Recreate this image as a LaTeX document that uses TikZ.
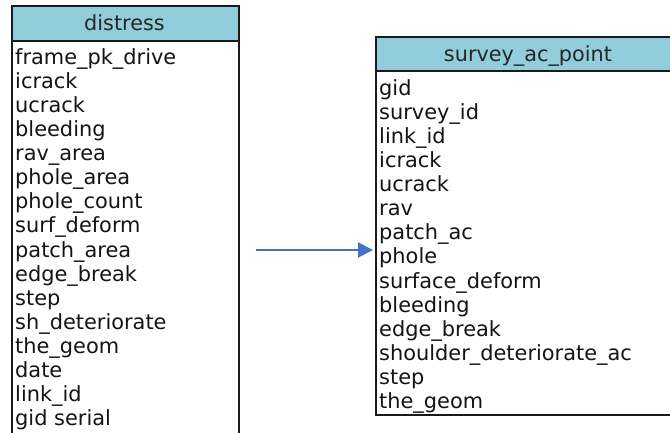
\documentclass[tikz,border=0pt]{standalone}
\usepackage{fontspec}
\setmainfont{DejaVu Sans}
\usetikzlibrary{arrows.meta}
\definecolor{headblue}{HTML}{92CDDC}
\definecolor{linkblue}{HTML}{4472C4}
\definecolor{edge}{HTML}{1A1A1A}
\tikzset{
  tablebox/.style={draw=edge, line width=1.9pt, fill=white, inner sep=0pt, anchor=north west},
  tablehead/.style={draw=edge, line width=1.9pt, fill=headblue, inner sep=0pt, anchor=north west},
  headtext/.style={inner sep=0pt, anchor=base, font=\fontsize{20.8}{24}\selectfont, text=black!85},
  field/.style={inner sep=0pt, anchor=base west, font=\fontsize{20.9}{24}\selectfont, text=black!92},
  link/.style={draw=linkblue, line width=2pt, -{Triangle[length=15pt,width=15pt]}}
}
\begin{document}
\begin{tikzpicture}[x=1pt,y=1pt]
  \useasboundingbox (0,0) rectangle (670,-432);
  \fill[white] (0,0) rectangle (670,-432);
  \clip (0,0) rectangle (670,-432);

  % table: distress
  \node[tablebox, minimum width=227pt, minimum height=450pt] (distress) at (11,-5) {};
  \node[tablehead, minimum width=227pt, minimum height=35pt] (distresshead) at (11,-5) {};
  \node[headtext] (distresstitle) at (124.5,-30.5) {distress};
  \foreach \name [count=\i from 0] in {frame\_pk\_drive,icrack,ucrack,bleeding,rav\_area,phole\_area,phole\_count,surf\_deform,patch\_area,edge\_break,step,sh\_deteriorate,the\_geom,date,link\_id,gid serial}
    \node[field] (d\i) at (15,-64.5-24.07*\i) {\name};

  % table: survey_ac_point
  \node[tablebox, minimum width=310pt, minimum height=378pt] (survey) at (375,-36) {};
  \node[tablehead, minimum width=310pt, minimum height=34pt] (surveyhead) at (375,-36) {};
  \node[headtext] (surveytitle) at (528,-61) {survey\_ac\_point};
  \foreach \name [count=\i from 0] in {gid,survey\_id,link\_id,icrack,ucrack,rav,patch\_ac,phole,surface\_deform,bleeding,edge\_break,shoulder\_deteriorate\_ac,step,the\_geom}
    \node[field] (s\i) at (379,-95.5-24.07*\i) {\name};

  % link between the tables
  \coordinate (linkstart) at (256,-250);
  \draw[link] (linkstart) -- ([xshift=-2pt]linkstart -| survey.west);
\end{tikzpicture}
\end{document}
